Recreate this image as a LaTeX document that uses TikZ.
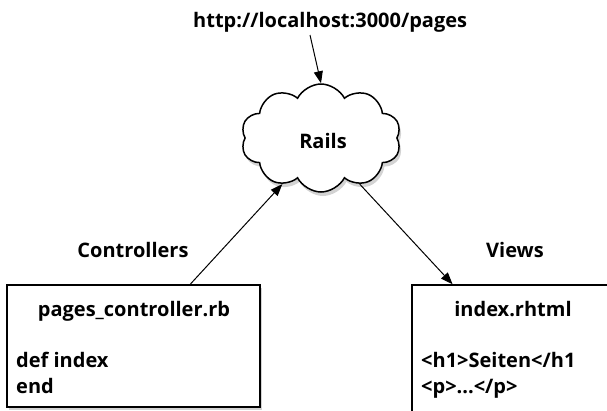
\documentclass[tikz,border=0pt]{standalone}
\usepackage{fontspec}
\setmainfont{Open Sans}
\usetikzlibrary{shapes.symbols,shadows,arrows.meta,calc}
\tikzset{
  lbl/.style={font=\bfseries\fontsize{20}{24}\selectfont, inner sep=0pt, anchor=base},
  codebox/.style={draw, line width=1.5pt, fill=white, inner sep=0pt,
    drop shadow={opacity=0.35, shadow xshift=2pt, shadow yshift=-3pt}},
  cloudnode/.style={cloud, cloud puffs=10, cloud puff arc=125, draw, line width=1.5pt, fill=white,
    inner sep=0pt, drop shadow={opacity=0.35, shadow xshift=2pt, shadow yshift=-4pt}},
  conn/.style={line width=1pt, -{Triangle[length=12pt,width=9pt]}},
}
\begin{document}
\begin{tikzpicture}[x=1pt,y=-1pt]
\useasboundingbox (0,0) rectangle (607,410);
\clip (0,0) rectangle (607,410);
\node[cloudnode, minimum width=160pt, minimum height=108pt] (cloud) at (321,138) {};
\node[lbl] (rails) at (323,148) {Rails};
\node[lbl, anchor=base west] (url) at (193,27) {http://localhost:3000/pages};
\node[lbl] (ctrl) at (133,257) {Controllers};
\node[lbl] (views) at (515,257) {Views};
\node[codebox, minimum width=253pt, minimum height=122pt] (lb) at (133.5,346) {};
\node[codebox, minimum width=202pt, minimum height=140pt] (rb) at (513,355) {};
\node[lbl] (lbt) at (134,316) {pages\_controller.rb};
\node[lbl, anchor=base west] (lb1) at (16,367) {def index};
\node[lbl, anchor=base west] (lb2) at (16,393) {end};
\node[lbl] (rbt) at (513,316) {index.rhtml};
\node[lbl, anchor=base west] (rb1) at (421,367) {<h1>Seiten</h1};
\node[lbl, anchor=base west] (rb2) at (421,393) {<p>...</p>};
\coordinate (u0) at (310,35);
\draw[conn] (u0) -- (cloud.north);
\draw[conn] ($(lb.north west)!0.723!(lb.north east)$) -- (cloud.230);
\draw[conn] (cloud.310) -- ($(rb.north west)!0.203!(rb.north east)$);
\end{tikzpicture}
\end{document}
